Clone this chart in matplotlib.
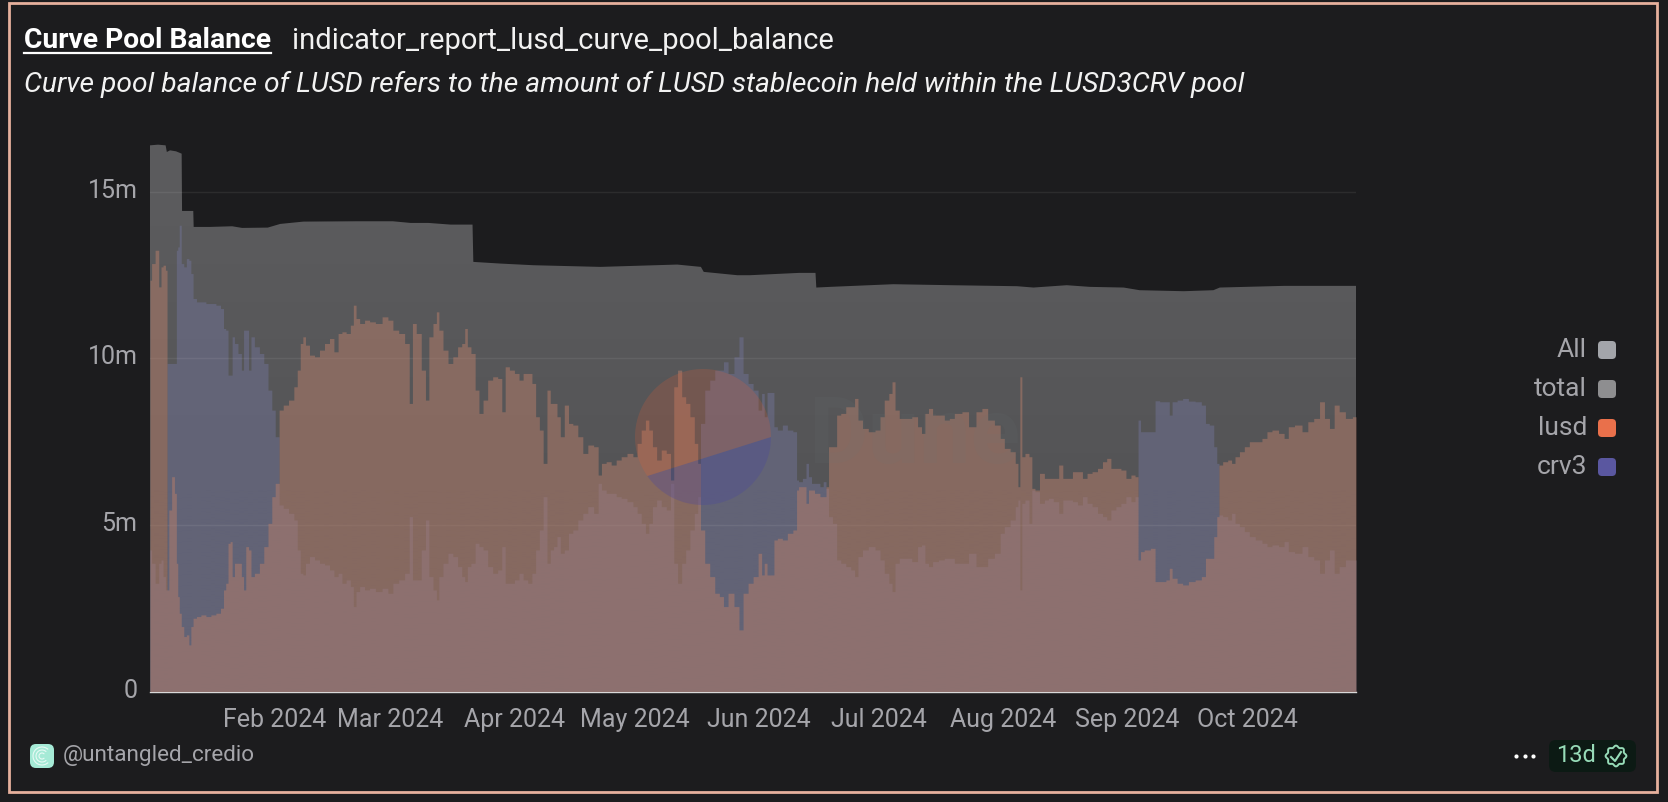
import matplotlib
matplotlib.use('Agg')
import matplotlib.pyplot as plt
import matplotlib.dates as mdates
import matplotlib.transforms as mtrans
import numpy as np
import pandas as pd
from matplotlib.patches import FancyBboxPatch, Polygon, Rectangle
from matplotlib.ticker import FuncFormatter

plt.rcParams['font.family'] = ['Roboto', 'DejaVu Sans']

START = pd.Timestamp('2024-01-01')
END = pd.Timestamp('2024-10-28')

# days since START, values in millions
days = [0, .8, 1.75, 2.6, 2.9, 3.6, 4.1, 4.4, 5, 5.8, 6.4, 6.75, 7.1, 7.5, 8.1, 8.75, 9.4, 10, 10.4, 11.1,
        12.1, 13.3, 14.6, 15.8, 17.1, 18.1, 18.6, 19.2, 19.75, 20.25, 20.75, 21.4, 22.5, 23.1, 23.6, 24.2,
        25, 25.4, 26.7, 27.9, 28.9, 30, 30.8, 31.7, 32.75, 33.75, 35.4, 36.4, 37.1, 37.9, 38.4, 39.2, 40.4,
        41.7, 42.9, 44.2, 45.4, 46.4, 47.5, 48.3, 49.6, 50.4, 51.1, 51.75, 52.9, 54.2, 55.4, 57.1, 58.75,
        60, 61.25, 62.9, 64.2, 65.2, 65.8, 67.1, 68.3, 69.2, 70, 71.25, 71.7, 72.5, 73.75, 75,
        76.15, 77.4, 78.2, 78.9, 79.5, 80.7, 81.6, 82.6, 83.65, 84.9, 86.15, 87.4, 88.2, 89.1, 90.3, 91.6,
        92.6, 93.65, 94.9, 95.75, 96.75, 97.6, 98.65, 99.5, 100.3, 101.15, 102, 102.8, 104, 104.9, 106.15,
        107.4, 108.65, 109.9, 111.55, 112.15, 113.2, 114.5, 115.7, 117, 118.2, 119.9, 121.15, 122, 123.2,
        124.1, 124.9, 125.9, 127, 128.2, 129.5, 130.3, 131.15, 132.2, 133.2, 134.2, 135.3, 136.4, 137,
        137.8, 139.1, 140.3, 141.6, 142.6, 143.65, 144.9, 146.6, 147.4, 148.65, 149.9, 151.15, 152.4,
        152.9, 153.7, 154.3, 155.5, 155.95, 157.2, 158.45, 159.7, 161.2, 161.55, 162.2, 163.45, 164, 164.7,
        165.5, 166.2, 166.8, 167.6, 168.45, 169, 169.7, 170.95, 171.8, 173, 174.3, 175.5, 176.2, 177.2,
        178.45, 180.1, 181.8, 182.6, 183.9, 184.9, 185.5, 186.4, 187.6, 189.3, 190.95, 192.2, 192.9, 193.9,
        194.7, 195.95, 197.6, 198.9, 200.1, 201.4, 203.9, 204.7, 205.5, 206.8, 208.45, 209.7, 211.8, 212.6,
        213.85, 215.5, 216.4, 216.85, 217.35, 217.85, 218.9, 219.85, 220.35, 221.4, 222.6, 223.85,
        224.6, 226.3, 227.3, 228.35, 229.6, 230.85, 232.1, 233.35, 234.4, 235.85, 237.1, 238.35, 239.2,
        240.45, 241.7, 242.95, 244.2, 245.45, 246.25, 246.95, 247.5, 248.75, 250.6, 251.1, 252.9, 254.2,
        254.6, 255.6, 257.1, 258.35, 260, 261.7, 263.1, 263.75, 265, 266, 266.5, 267.1, 268.35, 269.6,
        270.3, 271.3, 272.5, 273.75, 275, 276.7, 278.35, 279.2, 280.85, 282.5, 283.6, 284.6, 286.7, 288.35,
        289.6, 291.3, 292.5, 293.75, 295, 296.1, 297.5, 299.2, 301]

lusd = [12.35, 12.85, 13.25, 12.15, 12.75, 12.8, 12.65, 3.05, 5.45, 6.45, 5.95, 3.85, 2.85, 2.35, 1.95, 1.65, 1.7, 1.4, 1.95, 2.2,
        2.25, 2.3, 2.25, 2.3, 2.35, 2.5, 3.05, 3.25, 4.45, 4.5, 3.45, 3.85, 3.85, 3.45, 3.05, 4.35,
        4.25, 3.45, 3.55, 3.85, 4.35, 5.05, 5.85, 6.25, 8.45, 8.6, 8.75, 9.15, 9.65, 10.45, 10.65, 10.4, 10.1,
        10.05, 10.25, 10.45, 10.6, 10.2, 10.75, 10.8, 10.75, 11.0, 11.6, 11.2, 11.05, 11.15, 11.1, 11.05, 11.25,
        11.15, 10.85, 10.75, 10.45, 8.65, 11.05, 10.75, 9.65, 8.75, 10.65, 11.05, 11.4, 10.85, 10.25, 9.85,
        10.05, 10.35, 10.45, 10.9, 10.35, 10.15, 9.05, 8.35, 8.75, 9.35, 9.45, 9.4, 8.4, 9.75, 9.65, 9.55,
        9.35, 9.55, 9.55, 9.25, 8.25, 7.85, 6.85, 9.05, 8.65, 8.65, 8.25, 7.65, 8.6, 8.05, 8.0,
        7.65, 7.15, 7.4, 7.35, 6.5, 6.85, 6.9, 6.8, 6.95, 7.05, 7.15, 7.05, 7.45, 7.85,
        8.15, 7.85, 7.35, 6.95, 7.25, 7.15, 6.35, 9.15, 9.65, 8.85, 8.65, 8.25, 7.45, 6.85,
        4.85, 3.85, 3.45, 2.95, 2.85, 2.55, 2.95, 2.55, 1.85, 2.95, 3.25, 3.45, 4.15,
        3.5, 3.85, 3.5, 3.5, 4.55, 4.6, 4.55, 4.75, 4.85, 6.05, 6.15, 6.15, 5.65, 6.05,
        6.05, 5.95, 5.95, 5.85, 5.85, 6.15, 7.35, 7.35, 8.3, 8.35, 8.55, 8.55, 8.8, 8.15,
        7.9, 7.8, 7.85, 8.25, 8.75, 8.95, 9.3, 8.45, 8.2, 8.2, 8.25, 7.95, 7.75, 8.35,
        8.5, 8.3, 8.3, 8.15, 8.2, 8.35, 8.4, 7.95, 7.95, 8.4, 8.5, 8.15, 8.0, 7.6,
        7.3, 7.2, 6.85, 6.15, 9.45, 7.05, 7.15, 7.05, 6.1, 6.05, 6.55, 6.4,
        6.4, 6.4, 6.8, 6.4, 6.4, 6.6, 6.6, 6.4, 6.55, 6.6, 6.7, 6.9, 7.0,
        6.7, 6.7, 6.65, 6.4, 6.5, 6.45, 3.95, 4.2, 4.25, 4.3, 3.3, 3.3, 3.35,
        3.7, 3.4, 3.25, 3.2, 3.3, 3.35, 3.45, 4.0, 4.0, 4.65, 5.25, 6.8, 6.9, 6.95,
        6.85, 7.05, 7.2, 7.35, 7.5, 7.5, 7.6, 7.8, 7.85, 7.75, 7.6, 7.95, 8.0, 7.8,
        8.1, 8.2, 8.7, 8.2, 7.9, 8.6, 8.4, 8.2, 8.25]

crv3 = [4.25, 3.85, 3.25, 3.85, 3.95, 3.45, 3.05, 9.85, 9.85, 9.85, 9.85, 13.25, 13.35, 14.0, 12.85, 12.75, 13.0, 12.95, 12.55, 11.8,
        11.7, 11.7, 11.65, 11.65, 11.6, 11.5, 10.9, 10.85, 9.5, 9.5, 10.65, 10.45, 10.15, 9.65, 10.85, 10.85,
        9.65, 10.65, 10.35, 10.15, 9.85, 9.05, 8.45, 7.65, 5.6, 5.5, 5.35, 5.15, 4.25, 3.55, 3.5, 3.85, 4.05,
        3.95, 3.85, 3.8, 3.65, 3.45, 3.55, 3.25, 3.35, 3.15, 2.55, 3.0, 3.15, 3.05, 3.1, 3.0, 3.1,
        2.95, 3.25, 3.35, 3.55, 5.25, 3.35, 3.35, 4.25, 5.15, 3.45, 3.05, 2.75, 3.45, 3.85, 4.15,
        4.05, 3.75, 3.45, 3.3, 3.75, 3.85, 4.45, 4.35, 4.25, 3.75, 3.55, 3.65, 4.35, 3.25, 3.25, 3.35,
        3.55, 3.35, 3.25, 3.55, 4.25, 4.85, 5.85, 3.85, 4.25, 4.35, 4.65, 4.15, 4.25, 4.75, 4.85,
        5.15, 5.35, 5.55, 5.35, 6.25, 6.05, 5.95, 5.95, 5.85, 5.8, 5.7, 5.55, 5.35, 5.05,
        4.75, 5.05, 5.55, 5.75, 5.55, 5.45, 6.25, 3.85, 3.25, 3.85, 4.25, 4.85, 5.35, 5.85,
        8.05, 9.05, 9.35, 9.65, 9.65, 9.9, 9.55, 10.05, 10.65, 9.55, 9.25, 9.05, 8.45,
        8.95, 8.25, 8.98, 8.98, 7.95, 7.85, 8.0, 7.85, 7.8, 6.35, 6.3, 6.4, 6.85, 6.45,
        6.25, 6.25, 6.25, 6.15, 6.3, 6.1, 5.25, 5.05, 3.95, 3.85, 3.75, 3.65, 3.45, 4.05,
        4.25, 4.35, 4.25, 3.95, 3.55, 3.25, 3.0, 3.85, 4.0, 4.0, 3.9, 4.35, 4.4, 3.85,
        3.75, 3.9, 3.95, 4.0, 4.0, 3.85, 3.85, 4.15, 4.15, 3.75, 3.75, 4.0, 4.15, 4.75,
        4.95, 5.15, 5.55, 5.75, 3.05, 5.65, 5.75, 5.05, 6.05, 6.0, 5.65, 5.75,
        5.8, 5.7, 5.35, 5.75, 5.75, 5.7, 5.6, 5.85, 5.65, 5.55, 5.35, 5.25, 5.15,
        5.45, 5.55, 5.65, 5.85, 5.7, 5.85, 8.15, 7.8, 7.8, 7.8, 8.73, 8.7, 8.7,
        8.3, 8.7, 8.75, 8.8, 8.72, 8.7, 8.6, 8.05, 8.0, 7.35, 6.85, 5.3, 5.25, 5.15,
        5.35, 5.05, 4.95, 4.8, 4.65, 4.55, 4.45, 4.35, 4.4, 4.35, 4.5, 4.2, 4.15, 4.35,
        4.05, 3.95, 3.55, 3.95, 4.25, 3.55, 3.75, 3.95, 3.95]

total_days = [0, 2, 3.9, 4.2, 5, 6.5, 7.9, 8, 10.8, 10.9, 15, 20.5, 23, 29.4, 32.5, 38.3, 51.7, 60.6, 65, 69.5, 75, 80.5,
              80.7, 87.4, 95.7, 112.4, 131.6, 137.5, 138.2, 146.6, 149.7, 162, 166.1, 166.3, 169.7, 185.5, 200,
              216.4, 220.5, 228.8, 234.6, 243, 247, 258, 265.4, 267, 283, 301]
total = [16.4, 16.42, 16.4, 16.2, 16.25, 16.22, 16.15, 14.43, 14.43, 13.95, 13.95, 13.97, 13.92, 13.93, 14.04, 14.11, 14.12, 14.12, 14.07, 14.07, 14.02, 14.02,
         12.9, 12.85, 12.8, 12.75, 12.82, 12.75, 12.6, 12.5, 12.5, 12.57, 12.57, 12.13, 12.15, 12.23, 12.2,
         12.17, 12.13, 12.2, 12.15, 12.13, 12.05, 12.02, 12.05, 12.13, 12.18, 12.18]

y_ticks = [0, 5, 10, 15]
month_ticks = pd.date_range('2024-02-01', '2024-10-01', freq='MS')

legend_labels = ['All', 'total', 'lusd', 'crv3']
legend_colors = ['#a3a5aa', '#8e8e90', '#e9704b', '#5a57a0']

BG = '#1c1c1e'
TEXT = '#a5a5aa'

fig = plt.figure(figsize=(16.68, 8.02), dpi=100, facecolor=BG)

# plot area, placed to the pixel on the 1668x802 canvas
ax = fig.add_axes([150 / 1668, (802 - 691.5) / 802, 1206 / 1668, 549.5 / 802], facecolor=BG)
t = START + pd.to_timedelta(days, unit='D')
tt = START + pd.to_timedelta(total_days, unit='D')

# total area fades a little towards the bottom
total_area = ax.fill_between(tt, 0, total, color='none', lw=0, zorder=1)
ax.set_xlim(START, END)
ax.set_ylim(0, 16.5)
xl = ax.get_xlim()
shade = np.interp(np.linspace(16.5, 0, 100), [0, 6, 14, 16.5], [84, 84, 91, 92])
grad = ax.imshow(np.c_[shade, shade, shade + 2][:, None, :] / 255, extent=[xl[0], xl[1], 0, 16.5],
                 aspect='auto', zorder=1, interpolation='bilinear')
grad.set_clip_path(total_area.get_paths()[0], transform=ax.transData)

ax.fill_between(t, 0, crv3, color='#707296', alpha=0.5, lw=0, zorder=2, step='mid')
ax.fill_between(t, 0, lusd, color='#b87e6a', alpha=0.5, lw=0, zorder=3, step='mid')

ax.set_xlim(START, END)
ax.set_ylim(0, 16.5)
ax.set_yticks(y_ticks)
ax.yaxis.set_major_formatter(FuncFormatter(lambda v, p: '0' if v == 0 else f'{v:.0f}m'))
ax.set_xticks(month_ticks)
ax.xaxis.set_major_formatter(mdates.DateFormatter('%b %Y'))
ax.tick_params(axis='both', length=0, labelsize=18, labelcolor=TEXT)
ax.tick_params(axis='x', pad=12)
ax.tick_params(axis='y', pad=9)
lift = mtrans.ScaledTranslation(0, 3.5 / 100, fig.dpi_scale_trans)
for lab in ax.get_yticklabels():
    lab.set_transform(lab.get_transform() + lift)
ax.grid(axis='y', color='white', alpha=0.07, lw=1, zorder=4)
ax.set_axisbelow(False)
for s in ['top', 'left', 'right']:
    ax.spines[s].set_visible(False)
ax.spines['bottom'].set_color('#d8d8d8')
ax.spines['bottom'].set_linewidth(1)

# everything else sits on a pixel overlay
ov = fig.add_axes([0, 0, 1, 1], facecolor='none')
ov.set_xlim(0, 1668)
ov.set_ylim(802, 0)
ov.axis('off')

ov.add_patch(Rectangle((9, 3), 1648, 789, fill=False, ec='#e6b09c', lw=2))

# dune watermark
cx, cy, r = 703, 437, 68
a = np.radians(np.linspace(0, 145, 60))
ov.add_patch(Polygon(np.c_[cx + r * np.cos(a), cy + r * np.sin(a)], fc='#4a46a0', alpha=0.3, lw=0))
a = np.radians(np.linspace(145, 360, 80))
ov.add_patch(Polygon(np.c_[cx + r * np.cos(a), cy + r * np.sin(a)], fc='#eb5f32', alpha=0.2, lw=0))
ov.text(808, 438, 'Dune', color='#6a7a78', alpha=0.1, fontsize=66, fontweight='bold', va='center', ha='left')

# header
ov.text(24.5, 41, 'Curve Pool Balance', color='white', fontsize=20.3, fontweight='bold', va='center')
ov.plot([24.5, 271], [53, 53], color='white', lw=1.6)
ov.text(292, 41, 'indicator_report_lusd_curve_pool_balance', color='#f2f2f2', fontsize=21, va='center')
ov.text(24, 84, 'Curve pool balance of LUSD refers to the amount of LUSD stablecoin held within the LUSD3CRV pool',
        color='#f2f2f2', fontsize=20.3, style='italic', va='center')

# legend
for i, (label, col) in enumerate(zip(legend_labels, legend_colors)):
    yc = 350 + 39 * i
    ov.text(1587, yc, label, color=TEXT, fontsize=19, ha='right', va='center')
    ov.add_patch(FancyBboxPatch((1598, yc - 9), 18, 18, boxstyle='round,pad=0,rounding_size=4', fc=col, lw=0))

# footer
ov.add_patch(FancyBboxPatch((30, 744), 24, 24, boxstyle='round,pad=0,rounding_size=6', fc='#a5ead6', lw=0))
for rad in [9, 6, 3]:
    a = np.radians(np.linspace(50, 310, 30))
    ov.plot(42 + rad * np.cos(a), 756 + rad * np.sin(a), color='#e8faf5', lw=0.8)
ov.text(63, 756, '@untangled_credio', color=TEXT, fontsize=16.2, va='center')
ov.scatter([1516, 1525, 1533], [756, 756, 756], s=9, color='white', lw=0)
ov.add_patch(FancyBboxPatch((1549, 740), 87, 32, boxstyle='round,pad=0,rounding_size=7', fc='#0c1a14', lw=0))
ov.text(1556, 756, '13d', color='#97dcb8', fontsize=17, va='center')
a = np.linspace(0, 2 * np.pi, 120)
rr = 9.5 + 0.9 * np.cos(8 * a)
ov.add_patch(Polygon(np.c_[1616 + rr * np.cos(a), 756 + rr * np.sin(a)], fill=False, ec='#97dcb8', lw=1.4))
ov.plot([1611, 1615, 1621], [757, 761, 752], color='#97dcb8', lw=1.5)

fig.savefig('out.png', dpi=100, facecolor=BG)
